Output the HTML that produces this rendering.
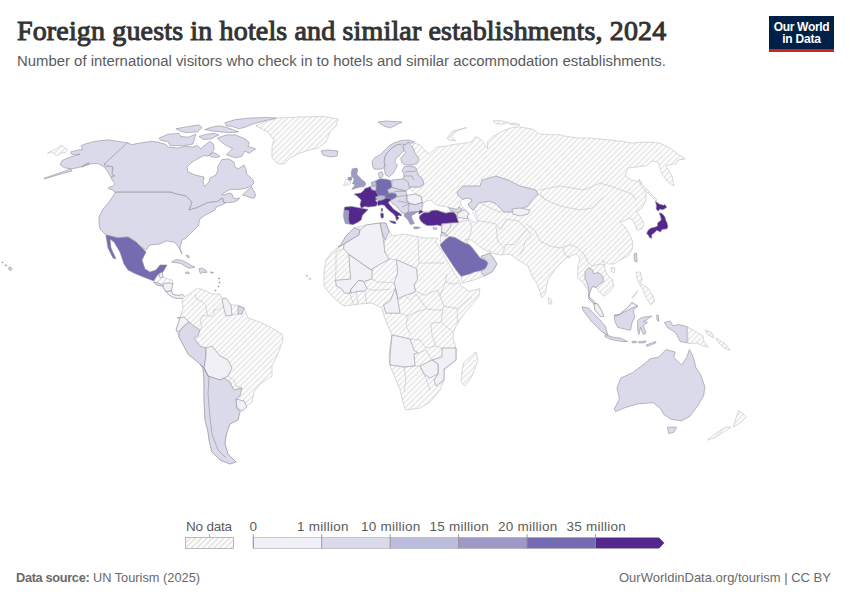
<!DOCTYPE html>
<html><head><meta charset="utf-8">
<style>
html,body{margin:0;padding:0;background:#fff;}
body{width:850px;height:600px;position:relative;overflow:hidden;font-family:"Liberation Sans",sans-serif;}
.t{position:absolute;white-space:nowrap;}
#title{left:17px;top:14.6px;font-family:"Liberation Serif",serif;font-weight:normal;font-size:28px;color:#333;letter-spacing:0.15px;-webkit-text-stroke:1px #333;}
#sub{left:17px;top:53.3px;font-size:14.9px;color:#5b5b5b;}
#logo{position:absolute;left:769px;top:16px;width:65px;height:36px;background:#002147;}
#logo .bar{position:absolute;left:0;bottom:0;width:65px;height:3px;background:#ce261e;}
#logo .l{position:absolute;left:0;width:65px;text-align:center;color:#fff;font-weight:bold;font-size:12px;line-height:12px;}
#map{position:absolute;left:0;top:0;}
.lg{position:absolute;font-size:13.5px;color:#5b5b5b;letter-spacing:0.25px;}
#foot1{left:16px;top:569.8px;font-size:12.8px;color:#6a6a6a;}
#foot2{left:619px;top:569.5px;font-size:13px;color:#6a6a6a;}
</style></head><body>
<div class="t" id="title">Foreign guests in hotels and similar establishments, 2024</div>
<div class="t" id="sub">Number of international visitors who check in to hotels and similar accommodation establishments.</div>
<div id="logo"><div class="l" style="top:4.5px;letter-spacing:-0.3px">Our World</div><div class="l" style="top:17px;letter-spacing:-0.2px">in Data</div><div class="bar"></div></div>
<svg id="map" width="850" height="600" style="position:absolute;left:0;top:0">
<defs><pattern id="hh" patternUnits="userSpaceOnUse" width="4" height="4" patternTransform="rotate(-45 2 2)"><rect width="4" height="4" fill="#fff"/><path d="M -1,2 l 6,0" stroke="#dedede" stroke-width="1.2"/></pattern></defs>
<g stroke="#8e8e98" stroke-width="0.6" stroke-linejoin="round">
<path d="M47.4,153.5 L55.9,148.8 L61.2,145.1 L67.5,149.8 L65.4,152.5 L61.2,153.0 L56.9,155.6 L51.6,151.9Z" fill="url(#hh)" stroke="#bfbfbf" stroke-width="0.6"/>
<path d="M81.3,145.6 L86.6,143.5 L95.1,141.4 L107.8,139.8 L114.1,140.8 L127.9,142.9 L104.1,164.6 L105.6,166.8 L113.1,166.2 L112.0,170.0 L114.1,175.2 L110.9,177.4 L108.0,172.0 L104.1,167.0 L98.2,163.6 L91.9,163.6 L85.5,165.7 L81.3,166.8 L71.8,168.9 L64.4,167.8 L60.1,164.6 L62.2,160.4 L69.6,157.2 L77.1,155.1 L80.2,154.1 L71.8,154.6 L70.7,151.9 L79.2,149.8 L82.4,149.8Z" fill="#dadaeb"/>
<path d="M70.7,168.9 L58.0,173.5 L44.2,178.2 L44.5,178.9 L59.0,174.5 L71.8,171.0Z" fill="#dadaeb"/>
<path d="M81.5,166.5 L88.7,162.5 L89.0,163.3 L82.0,167.2Z" fill="#dadaeb"/>
<path d="M127.4,142.6 L131.5,144.6 L143.0,142.6 L151.3,141.3 L157.9,142.1 L166.1,144.6 L167.8,147.1 L177.7,147.9 L185.9,146.2 L192.5,147.1 L197.4,145.4 L200.7,148.7 L205.7,144.6 L209.8,141.3 L213.9,144.6 L214.0,150.0 L213.0,151.5 L208.0,156.0 L204.0,155.5 L198.0,158.5 L192.0,162.0 L187.0,167.0 L188.0,172.0 L195.0,175.0 L204.0,177.0 L203.0,182.0 L204.5,186.5 L209.0,182.0 L210.0,178.0 L216.0,175.0 L218.0,170.0 L217.5,167.0 L220.0,163.0 L222.0,159.5 L229.0,159.0 L234.0,162.0 L235.0,167.0 L238.0,169.0 L244.0,165.0 L246.0,169.0 L246.5,174.0 L250.0,177.0 L253.0,180.0 L254.0,183.0 L251.0,186.0 L245.2,188.5 L237.7,189.4 L230.2,189.4 L225.5,191.8 L221.7,194.6 L224.0,195.0 L229.0,193.0 L232.0,194.0 L233.0,197.5 L235.8,198.8 L239.6,197.9 L238.6,199.8 L233.9,202.1 L229.2,202.6 L225.5,202.6 L223.6,202.6 L222.6,198.0 L217.0,201.6 L208.0,202.6 L196.0,208.0 L189.0,210.0 L192.0,202.0 L186.0,196.0 L176.0,194.0 L171.0,192.2 L115.0,192.2 L113.0,190.0 L108.0,188.5 L110.0,186.5 L112.0,187.0 L115.0,184.0 L111.0,178.0 L115.0,176.0 L112.0,174.0 L113.0,167.0 L109.0,166.0 L104.0,164.4Z" fill="#dadaeb"/>
<path d="M159.2,138.0 L168.3,134.2 L179.0,133.4 L180.6,136.5 L188.2,137.2 L195.9,134.2 L194.3,139.5 L192.8,144.1 L183.6,145.6 L169.9,145.6 L168.3,141.8 L160.7,140.3Z" fill="#dadaeb"/>
<path d="M176.0,128.8 L188.2,126.5 L198.9,125.0 L202.0,127.3 L197.4,131.9 L185.2,132.6 L180.6,131.1Z" fill="#dadaeb"/>
<path d="M198.9,136.5 L206.6,134.2 L214.2,133.4 L218.8,134.9 L211.2,138.8 L203.5,139.5Z" fill="#dadaeb"/>
<path d="M205.0,129.6 L211.2,127.3 L218.8,125.8 L226.5,127.3 L232.6,129.6 L238.7,131.9 L229.5,132.6 L220.3,131.9 L212.7,131.1Z" fill="#dadaeb"/>
<path d="M224.9,122.7 L235.6,119.6 L249.4,118.1 L266.2,117.4 L276.9,118.1 L266.2,120.4 L254.0,123.5 L244.8,127.3 L238.7,128.8 L232.6,126.5 L226.5,125.8Z" fill="#dadaeb"/>
<path d="M217.3,138.0 L226.5,134.9 L235.6,134.9 L244.8,138.8 L249.4,142.6 L247.9,146.4 L255.5,148.7 L249.4,153.3 L244.8,151.0 L241.7,156.3 L235.6,157.9 L226.5,154.8 L232.6,148.7 L226.5,145.6 L221.9,142.6Z" fill="#dadaeb"/>
<path d="M209.0,155.0 L213.0,152.5 L217.0,154.0 L220.0,156.5 L216.0,157.5 L212.0,157.0Z" fill="#dadaeb"/>
<path d="M242.4,195.1 L247.1,190.4 L251.8,186.6 L252.8,189.4 L254.6,192.2 L255.6,196.0 L253.7,198.4 L249.9,197.4 L246.2,196.0Z" fill="#dadaeb"/>
<path d="M256.0,126.0 L264.0,122.0 L278.0,118.0 L300.0,117.0 L322.0,116.4 L338.0,119.0 L336.0,126.0 L330.0,132.0 L326.0,142.0 L318.0,148.0 L310.0,150.0 L300.0,153.0 L290.0,158.0 L284.0,164.0 L278.0,164.0 L272.0,158.0 L272.0,146.0 L274.0,140.0 L268.0,132.0Z" fill="url(#hh)" stroke="#bfbfbf" stroke-width="0.6"/>
<path d="M321.0,151.0 L328.0,150.0 L338.0,151.0 L337.0,156.0 L330.0,157.0 L323.0,155.0Z" fill="#dadaeb"/>
<path d="M115.0,192.2 L171.0,192.2 L176.0,194.0 L186.0,196.0 L192.0,202.0 L189.0,210.0 L196.0,208.0 L208.0,202.6 L217.0,201.6 L222.6,198.0 L223.6,202.6 L225.5,202.6 L224.5,203.5 L216.1,207.3 L215.1,210.1 L209.5,212.9 L205.7,214.8 L200.1,218.6 L199.1,222.4 L198.2,226.0 L192.0,232.0 L186.0,238.0 L182.0,240.0 L180.0,248.0 L182.0,254.0 L178.0,246.0 L174.0,242.0 L166.0,241.0 L160.0,244.0 L150.0,245.0 L146.0,250.0 L140.0,246.0 L136.0,242.0 L128.0,237.0 L118.0,238.0 L106.0,235.0 L105.0,234.0 L100.0,229.0 L99.0,224.0 L99.0,217.0 L103.0,209.0 L109.0,202.0 L113.0,196.0 L115.0,193.0Z" fill="#dadaeb"/>
<path d="M106.0,235.0 L118.0,238.0 L128.0,237.0 L136.0,242.0 L140.0,246.0 L146.0,252.0 L142.0,260.0 L145.0,269.0 L150.0,272.0 L156.0,270.0 L160.0,265.0 L167.0,265.0 L163.0,272.0 L157.0,276.0 L154.0,281.0 L146.0,278.0 L136.0,274.0 L128.0,270.0 L124.0,264.0 L120.0,252.0 L114.0,242.0 L110.0,239.0 L111.0,248.0 L116.0,259.0 L113.0,258.0 L108.0,248.0 L106.0,236.0Z" fill="#756bb1"/>
<path d="M162.4,272.0 L162.9,277.1 L166.6,278.5 L172.3,280.0 L172.8,283.2 L171.4,290.8 L173.2,294.5 L177.9,295.5 L182.6,294.5 L184.5,296.4 L184.5,299.2 L180.8,298.3 L177.0,298.3 L173.2,297.4 L168.5,294.5 L165.7,291.7 L161.9,286.1 L157.2,285.1 L153.5,282.3 L154.0,281.0 L157.0,276.0 L159.0,274.0Z" fill="url(#hh)" stroke="#bfbfbf" stroke-width="0.6"/>
<path d="M159.0,273.8 L162.4,272.0 L162.9,277.1 L160.0,278.0Z" fill="#f2f0f7"/>
<path d="M153.5,282.3 L157.2,282.3 L162.9,285.1 L161.9,286.1 L157.2,285.1Z" fill="#dadaeb"/>
<path d="M163.8,283.2 L172.8,283.2 L171.4,290.8 L166.0,291.7 L163.0,287.0Z" fill="#f2f0f7"/>
<path d="M166.0,291.7 L171.4,290.8 L173.2,294.5 L177.9,295.5 L182.6,294.5 L184.5,296.4 L184.5,299.2 L180.8,298.3 L177.0,298.3 L173.2,297.4 L168.5,294.5Z" fill="#f2f0f7"/>
<path d="M171.4,262.1 L176.1,259.7 L181.7,260.2 L186.4,262.5 L191.1,265.4 L194.9,267.2 L189.2,268.2 L185.5,266.3 L180.8,263.5 L175.1,262.5Z" fill="#dadaeb"/>
<path d="M199.1,268.6 L202.4,268.2 L206.2,270.5 L207.1,272.4 L202.4,272.4 L200.5,273.8 L199.6,271.5Z" fill="#dadaeb"/>
<path d="M185.0,272.4 L188.3,271.9 L189.7,273.4 L186.4,273.4Z" fill="#dadaeb"/>
<path d="M209.9,272.0 L213.7,272.4 L211.8,273.4Z" fill="#dadaeb"/>
<path d="M186.4,255.0 L189.0,256.0 L189.2,257.8 L187.0,257.0Z" fill="#dadaeb"/>
<path d="M184.5,296.4 L188.0,295.0 L192.0,292.0 L198.0,288.0 L206.0,291.0 L212.0,294.0 L220.0,294.0 L222.0,298.0 L230.0,305.0 L238.0,305.0 L244.0,308.0 L248.0,318.0 L260.0,322.0 L272.0,328.0 L282.0,334.0 L283.0,340.0 L278.0,354.0 L272.0,366.0 L272.0,376.0 L260.0,384.0 L254.0,392.0 L252.0,402.0 L246.0,406.0 L242.0,410.0 L240.0,412.0 L238.0,420.0 L230.0,424.0 L228.0,429.0 L226.0,436.0 L225.0,444.0 L228.0,454.0 L236.0,462.0 L230.0,464.0 L220.0,460.0 L212.0,452.0 L209.0,440.0 L208.0,432.0 L205.0,420.0 L204.0,400.0 L204.0,380.0 L203.0,368.0 L200.0,364.0 L188.0,354.0 L179.0,337.0 L176.0,330.0 L180.0,318.0 L183.0,308.0 L182.0,300.0Z" fill="url(#hh)" stroke="#bfbfbf" stroke-width="0.6"/>
<path d="M177.0,318.0 L184.0,317.0 L189.0,322.0 L182.0,328.0 L179.0,332.0 L176.0,330.0 L180.0,318.0Z" fill="#f2f0f7"/>
<path d="M179.0,332.0 L182.0,328.0 L189.0,322.0 L194.0,326.0 L200.0,330.0 L198.0,336.0 L194.0,338.0 L200.0,346.0 L206.0,348.0 L206.0,356.0 L204.0,368.0 L200.0,364.0 L188.0,354.0 L179.0,337.0Z" fill="#dadaeb"/>
<path d="M206.0,348.0 L212.0,346.0 L220.0,356.0 L228.0,360.0 L232.0,368.0 L228.0,376.0 L220.0,380.0 L208.0,376.0 L204.0,368.0 L206.0,356.0Z" fill="#f2f0f7"/>
<path d="M222.0,299.0 L226.0,298.0 L231.0,305.0 L232.0,315.0 L226.0,316.0 L224.0,309.0Z" fill="#f2f0f7"/>
<path d="M238.0,306.0 L244.0,308.0 L242.0,314.0 L238.0,314.0Z" fill="#dadaeb"/>
<path d="M204.0,368.0 L208.0,376.0 L220.0,380.0 L224.0,378.0 L230.0,382.0 L234.0,390.0 L242.0,388.0 L240.0,396.0 L236.0,399.0 L237.0,408.0 L240.0,412.0 L238.0,420.0 L230.0,424.0 L228.0,429.0 L226.0,436.0 L225.0,444.0 L228.0,454.0 L236.0,462.0 L230.0,464.0 L220.0,460.0 L212.0,452.0 L209.0,440.0 L208.0,432.0 L205.0,420.0 L204.0,400.0 L204.0,380.0 L203.0,368.0 L200.0,364.0Z" fill="#dadaeb"/>
<path d="M236.0,399.0 L244.0,401.0 L247.0,407.0 L242.0,411.0 L237.0,408.0Z" fill="#f2f0f7"/>
<path d="M413.5,142.6 L420.6,145.3 L424.1,149.7 L429.4,154.1 L432.9,150.6 L436.5,147.1 L445.3,146.2 L454.1,144.4 L462.9,143.5 L471.8,141.8 L475.3,136.5 L480.6,139.1 L484.1,143.5 L487.6,148.8 L487.6,141.8 L492.9,136.5 L501.8,131.2 L512.4,127.6 L519.4,126.8 L533.5,129.4 L538.8,133.8 L549.4,134.7 L560.0,134.7 L564.0,136.0 L578.0,138.0 L590.0,138.0 L600.0,139.0 L620.0,141.0 L632.0,143.0 L646.0,142.0 L660.0,143.0 L670.0,148.0 L678.0,154.0 L685.0,159.0 L678.0,160.0 L676.0,164.0 L672.0,164.0 L666.0,166.0 L672.0,176.0 L674.0,186.0 L668.0,182.0 L662.0,174.0 L660.0,168.0 L658.0,162.0 L652.0,161.0 L646.0,166.0 L636.0,167.0 L628.0,168.0 L625.0,176.0 L632.0,180.0 L640.0,182.0 L646.0,190.0 L646.0,200.0 L642.0,208.0 L636.0,212.0 L640.0,216.0 L644.0,224.0 L642.0,229.0 L637.0,230.0 L634.0,222.0 L630.0,218.0 L626.0,220.0 L620.0,222.0 L626.0,228.0 L630.0,236.0 L633.0,242.0 L632.0,250.0 L628.0,256.0 L620.0,260.0 L614.0,264.0 L608.0,264.0 L602.0,260.0 L605.0,265.0 L605.0,270.0 L607.5,275.0 L612.5,280.0 L613.8,286.3 L610.0,291.3 L603.8,296.3 L600.0,292.5 L596.3,287.5 L592.5,286.3 L590.6,290.0 L588.8,296.3 L592.5,300.0 L596.3,303.8 L597.5,303.8 L601.3,310.0 L603.8,316.3 L600.0,316.3 L595.0,310.0 L593.8,303.8 L588.8,298.8 L588.8,292.5 L586.3,287.5 L582.5,282.5 L577.5,277.5 L578.0,266.0 L580.0,258.0 L576.0,254.0 L566.0,258.0 L556.0,268.0 L548.0,280.0 L545.0,294.0 L542.0,298.0 L538.0,286.0 L532.0,276.0 L528.0,266.0 L518.0,260.0 L510.0,254.0 L500.0,255.0 L490.0,253.0 L480.0,250.0 L470.0,242.0 L466.0,244.0 L453.0,237.0 L446.0,236.0 L441.0,232.0 L441.8,225.0 L435.9,223.5 L430.0,224.7 L425.3,225.3 L421.8,222.9 L419.4,218.2 L420.0,214.7 L418.8,211.2 L422.4,202.4 L421.2,196.5 L415.3,194.1 L409.4,188.2 L410.0,187.0 L420.0,187.0 L424.0,184.0 L420.0,178.0 L414.0,172.0 L412.0,165.0 L414.0,158.0 L412.0,150.0Z" fill="url(#hh)" stroke="#bfbfbf" stroke-width="0.6"/>
<path d="M378.0,122.0 L386.0,121.0 L394.0,121.5 L402.0,122.0 L396.0,125.0 L390.0,128.0 L384.0,126.0Z" fill="#dadaeb"/>
<path d="M343.5,185.3 L345.9,179.4 L350.6,180.0 L350.6,183.5 L347.0,185.3Z" fill="url(#hh)" stroke="#bfbfbf" stroke-width="0.6"/>
<path d="M352.4,168.8 L357.1,168.2 L357.6,171.2 L356.5,174.1 L359.4,177.1 L361.8,180.0 L364.1,181.2 L365.9,184.1 L364.1,186.5 L360.0,187.1 L355.3,188.2 L351.8,189.4 L354.1,186.5 L355.3,184.7 L352.4,183.5 L353.5,181.8 L354.1,178.8 L351.8,176.5 L351.2,172.9Z" fill="#9e9ac8"/>
<path d="M348.0,177.6 L351.5,177.0 L351.8,180.0 L348.5,180.0Z" fill="#9e9ac8"/>
<path d="M372.1,160.8 L375.0,157.5 L380.0,155.0 L385.0,150.0 L390.0,145.0 L395.0,142.5 L401.7,140.4 L408.3,140.0 L414.2,141.7 L411.7,143.3 L408.3,142.5 L405.0,145.0 L403.3,144.2 L400.0,144.2 L396.7,145.0 L391.7,148.3 L387.5,152.5 L385.0,156.7 L384.2,161.7 L385.0,165.0 L383.3,168.3 L380.0,169.2 L374.2,169.2 L372.5,165.8Z" fill="#dadaeb"/>
<path d="M385.0,156.7 L387.5,152.5 L391.7,148.3 L396.7,145.0 L400.0,144.2 L403.3,147.5 L404.2,150.8 L401.7,152.5 L400.0,155.0 L395.8,158.3 L395.0,162.5 L397.5,165.0 L395.0,170.0 L393.3,173.3 L389.2,176.7 L385.8,175.0 L384.2,170.0 L385.0,165.0 L384.2,161.7Z" fill="#dadaeb"/>
<path d="M403.3,144.2 L405.0,145.0 L408.3,142.5 L410.0,144.2 L413.3,148.3 L415.0,153.3 L419.2,159.2 L416.7,163.3 L411.7,165.0 L405.0,165.0 L401.7,162.5 L400.8,158.3 L403.3,155.0 L405.8,152.5 L404.2,150.8 L403.3,147.5Z" fill="#dadaeb"/>
<path d="M378.3,173.3 L381.7,171.7 L383.3,175.0 L381.7,177.5 L379.2,177.5Z" fill="#dadaeb"/>
<path d="M404.0,167.0 L410.0,166.0 L416.0,168.0 L418.0,175.0 L422.0,178.0 L424.0,184.0 L420.0,187.0 L410.0,187.0 L409.4,188.2 L405.9,191.2 L398.8,189.4 L391.8,187.1 L391.8,180.0 L403.5,178.8 L404.0,174.0 L402.0,171.0Z" fill="#dadaeb"/>
<path d="M375.8,180.8 L380.0,178.8 L385.8,179.2 L390.8,180.4 L391.7,187.5 L387.5,190.0 L389.2,193.3 L386.7,195.8 L378.3,195.8 L375.8,190.8Z" fill="#756bb1"/>
<path d="M371.3,182.5 L375.8,180.8 L376.3,185.8 L372.0,186.0Z" fill="#bcbddc"/>
<path d="M370.0,186.5 L376.3,185.8 L375.8,190.8 L372.0,190.0Z" fill="#dadaeb"/>
<path d="M387.5,190.0 L391.7,187.5 L398.8,189.4 L405.9,191.2 L407.1,195.3 L406.0,200.0 L409.4,203.5 L410.0,208.0 L408.0,212.0 L406.0,213.5 L402.0,213.0 L398.0,208.0 L392.0,203.0 L390.0,199.5 L392.5,199.2 L396.7,196.7 L395.8,193.8 L390.0,193.3 L389.2,193.3Z" fill="#dadaeb"/>
<path d="M407.1,195.3 L415.3,194.1 L421.2,196.5 L422.4,202.4 L415.3,204.7 L409.4,203.5 L407.1,200.0Z" fill="#f2f0f7"/>
<path d="M409.4,203.5 L415.3,204.7 L422.4,202.4 L421.8,208.5 L421.0,210.5 L418.0,211.5 L413.0,212.0 L409.0,212.3 L408.0,208.0Z" fill="#dadaeb"/>
<path d="M404.4,214.0 L408.0,212.5 L413.0,212.0 L418.0,211.5 L414.5,214.0 L411.5,215.5 L412.0,219.0 L414.5,223.5 L410.5,224.5 L408.0,220.0 L406.5,218.0 L404.5,216.5Z" fill="#9e9ac8"/>
<path d="M413.8,227.0 L417.0,226.9 L420.4,227.5 L417.0,228.8 L414.0,228.5Z" fill="#9e9ac8"/>
<path d="M384.5,195.6 L390.0,193.3 L395.8,193.8 L396.7,196.7 L392.5,199.2 L388.0,199.5 L385.5,198.8Z" fill="#756bb1"/>
<path d="M375.3,196.3 L378.3,195.6 L381.2,195.6 L385.5,196.3 L384.5,199.0 L382.5,200.2 L379.0,200.6 L376.2,199.8Z" fill="#bcbddc"/>
<path d="M354.1,194.1 L360.6,192.9 L362.9,191.2 L365.3,188.2 L368.2,187.6 L370.0,186.5 L372.0,190.0 L375.8,190.8 L378.3,195.8 L375.3,197.1 L376.5,199.4 L375.3,200.0 L377.6,202.9 L376.5,205.9 L372.9,206.5 L368.2,207.1 L364.7,206.5 L361.2,208.2 L360.0,204.7 L361.2,200.0 L357.6,196.5Z" fill="#54278f"/>
<path d="M381.1,208.4 L382.7,208.4 L382.7,211.1 L381.3,211.6Z" fill="#54278f"/>
<path d="M344.7,207.1 L351.8,206.5 L361.2,208.2 L368.2,209.4 L365.9,211.8 L362.4,215.3 L361.2,220.0 L357.6,222.4 L352.9,224.7 L349.4,224.1 L348.2,218.8 L348.8,211.8 L344.1,210.0Z" fill="#54278f"/>
<path d="M344.1,210.0 L348.8,210.6 L348.2,218.8 L349.4,224.1 L345.3,223.5 L343.5,216.5Z" fill="#9e9ac8"/>
<path d="M377.9,200.9 L382.7,199.9 L385.9,198.3 L390.7,198.8 L390.7,200.4 L388.5,202.0 L389.1,204.1 L391.2,206.3 L393.3,208.9 L396.5,211.1 L399.7,213.2 L401.9,215.3 L400.3,215.9 L398.7,215.3 L397.6,216.4 L399.2,218.0 L397.6,219.6 L397.1,220.7 L396.0,219.1 L395.5,216.4 L393.3,213.7 L389.6,211.1 L386.4,207.9 L384.3,205.2 L381.1,204.7 L378.4,205.7 L377.3,203.6Z" fill="#54278f"/>
<path d="M389.6,220.7 L393.3,221.2 L395.5,221.7 L396.0,223.9 L393.3,223.3 L390.7,222.3Z" fill="#54278f"/>
<path d="M380.5,213.2 L383.2,213.2 L383.7,217.0 L382.1,218.5 L381.1,217.5Z" fill="#54278f"/>
<path d="M447.1,138.2 L452.4,131.2 L466.5,127.6 L457.6,130.3 L450.6,136.5 L455.9,140.9 L448.8,140.0Z" fill="url(#hh)" stroke="#bfbfbf" stroke-width="0.6"/>
<path d="M493.0,121.0 L500.0,120.6 L509.0,122.5 L503.0,124.1 L495.0,123.5Z" fill="url(#hh)" stroke="#bfbfbf" stroke-width="0.6"/>
<path d="M509.0,123.5 L516.0,123.0 L520.0,125.0 L513.0,125.0Z" fill="url(#hh)" stroke="#bfbfbf" stroke-width="0.6"/>
<path d="M421.8,208.5 L423.2,203.8 L426.0,201.0 L430.8,200.1 L434.5,203.8 L439.2,205.7 L445.8,206.6 L450.5,208.5 L451.5,212.3 L446.8,212.3 L440.2,211.4 L434.5,209.9 L428.0,211.4 L422.3,211.4Z" fill="#fff" stroke="#bfbfbf" stroke-width="0.6"/>
<path d="M462.7,199.3 L467.3,198.0 L471.3,199.3 L472.0,201.3 L468.0,204.0 L470.0,207.3 L473.3,210.0 L476.7,211.3 L475.3,212.7 L477.3,216.7 L478.0,221.3 L475.3,222.7 L471.3,220.7 L468.0,218.7 L467.3,216.0 L469.3,214.0 L465.3,210.0 L461.3,205.3 L460.0,202.0Z" fill="#fff" stroke="#bfbfbf" stroke-width="0.6"/>
<path d="M457.0,192.0 L463.0,186.0 L480.0,186.0 L482.0,180.0 L496.0,176.0 L508.0,180.0 L520.0,186.0 L536.0,190.0 L538.0,194.0 L532.0,200.0 L528.0,206.0 L520.0,209.0 L512.0,212.0 L504.0,212.0 L496.0,204.0 L490.0,201.3 L478.7,202.7 L473.3,210.0 L470.0,207.3 L468.0,204.0 L472.0,201.3 L471.3,199.3 L467.3,198.0 L462.7,199.3 L458.0,195.3Z" fill="#dadaeb"/>
<path d="M512.0,209.0 L520.0,208.0 L530.0,210.0 L528.0,214.0 L520.0,216.0 L513.0,214.0Z" fill="#f2f0f7"/>
<path d="M418.9,211.1 L421.1,210.3 L423.3,211.9 L421.1,213.0 L418.9,214.1Z" fill="#54278f"/>
<path d="M420.0,215.5 L423.8,212.7 L428.8,212.5 L432.1,210.5 L437.1,210.3 L441.5,211.9 L446.0,213.3 L449.8,212.2 L453.7,212.2 L455.9,214.4 L457.0,217.7 L458.1,221.0 L458.7,222.7 L453.7,222.7 L448.2,223.2 L441.5,223.8 L441.0,226.0 L437.1,224.9 L433.2,225.5 L427.2,225.5 L423.3,223.2 L420.5,220.5 L419.4,217.7Z" fill="#54278f"/>
<path d="M448.8,207.6 L457.1,209.4 L459.0,207.0 L462.0,209.0 L459.4,212.4 L455.9,212.4 L450.0,210.0Z" fill="#dadaeb"/>
<path d="M459.4,212.4 L462.0,210.5 L465.3,210.0 L469.3,214.0 L467.3,216.0 L468.0,218.7 L462.0,218.0 L457.5,217.1 L457.1,213.5Z" fill="#f2f0f7"/>
<path d="M441.8,224.1 L451.2,222.9 L450.0,227.6 L445.3,233.5 L441.8,232.4 L441.8,228.0Z" fill="#f2f0f7"/>
<path d="M441.8,232.4 L445.3,233.5 L447.6,235.9 L446.0,236.0 L442.0,238.0 L440.5,236.0Z" fill="#dadaeb"/>
<path d="M433.0,227.6 L437.0,227.8 L436.5,229.4 L433.5,229.2Z" fill="#dadaeb"/>
<path d="M440.5,236.0 L446.0,236.0 L453.0,237.0 L466.0,244.0 L472.0,250.0 L478.0,254.0 L484.0,258.0 L488.0,252.0 L492.0,256.0 L497.0,264.0 L492.0,272.0 L484.0,276.0 L474.0,280.0 L466.0,282.0 L462.3,283.3 L461.2,276.3 L456.5,270.5 L451.8,263.5 L447.2,256.5 L442.5,249.5 L440.2,244.8Z" fill="url(#hh)" stroke="#bfbfbf" stroke-width="0.6"/>
<path d="M465.0,239.5 L471.7,240.2 L478.7,246.0 L485.7,250.7 L491.5,251.8 L489.2,253.5 L484.5,255.3 L479.8,257.7 L475.2,251.8 L471.7,247.2 L469.3,244.8Z" fill="#fff" stroke="#bfbfbf" stroke-width="0.6"/>
<path d="M440.2,244.8 L446.0,239.0 L449.5,236.7 L455.3,237.8 L463.5,242.5 L469.3,244.8 L471.7,247.2 L475.2,251.8 L479.8,257.7 L486.8,261.2 L488.0,263.5 L485.7,268.2 L481.0,270.5 L475.2,271.7 L469.3,274.0 L461.2,276.3 L456.5,270.5 L451.8,263.5 L447.2,256.5 L442.5,249.5Z" fill="#756bb1"/>
<path d="M481.0,256.0 L484.5,255.3 L489.2,253.0 L492.0,256.0 L497.0,264.0 L492.0,272.0 L484.0,276.0 L481.0,272.0 L485.7,268.2 L488.0,263.5 L486.8,261.2Z" fill="#dadaeb"/>
<path d="M548.0,298.0 L551.0,299.0 L552.0,304.0 L549.0,304.0Z" fill="url(#hh)" stroke="#bfbfbf" stroke-width="0.6"/>
<path d="M634.0,254.0 L636.5,253.0 L637.0,262.0 L634.5,261.0Z" fill="#dadaeb"/>
<path d="M611.0,267.5 L615.0,268.0 L614.5,272.5 L611.5,272.0Z" fill="url(#hh)" stroke="#bfbfbf" stroke-width="0.6"/>
<path d="M655.4,201.3 L659.1,203.9 L663.5,205.3 L664.9,204.6 L666.8,207.2 L664.2,209.0 L662.0,209.7 L659.8,209.0 L658.3,211.2 L656.1,209.0 L656.5,206.1Z" fill="#54278f"/>
<path d="M659.8,212.7 L662.7,214.1 L664.9,217.1 L665.7,220.0 L667.1,222.9 L667.9,226.6 L667.1,228.8 L664.2,229.2 L662.0,229.5 L660.5,232.1 L658.3,231.0 L656.9,230.3 L655.4,231.7 L653.9,233.2 L651.7,234.7 L651.7,238.4 L649.5,237.6 L648.1,234.7 L646.6,233.6 L648.1,230.3 L651.0,228.1 L654.7,227.3 L657.6,225.9 L657.6,222.9 L661.3,220.0 L660.5,216.3 L659.4,213.8Z" fill="#54278f"/>
<path d="M639.0,179.0 L642.0,184.0 L657.0,200.0 L656.0,201.0 L641.0,186.0Z" fill="url(#hh)" stroke="#bfbfbf" stroke-width="0.6"/>
<path d="M585.0,271.3 L588.8,267.5 L592.5,270.0 L593.8,273.8 L598.8,272.5 L602.5,276.3 L603.8,281.3 L600.0,283.8 L596.3,287.5 L592.5,286.3 L590.6,290.0 L588.8,296.3 L592.5,300.0 L596.3,303.8 L593.8,303.8 L588.8,298.8 L588.8,290.0 L587.5,283.8 L585.0,278.8Z" fill="#dadaeb"/>
<path d="M593.8,303.8 L597.5,303.8 L601.3,310.0 L603.8,316.3 L600.0,316.3 L595.0,310.0Z" fill="#f2f0f7"/>
<path d="M636.2,272.1 L640.4,272.1 L641.9,279.2 L640.4,283.4 L647.5,287.7 L650.4,291.9 L653.2,296.2 L654.6,301.9 L650.4,304.7 L646.1,297.6 L643.3,290.5 L639.0,283.4 L636.9,277.8Z" fill="url(#hh)" stroke="#bfbfbf" stroke-width="0.6"/>
<path d="M631.9,297.6 L637.6,290.5 L638.2,291.0 L632.5,298.2Z" fill="url(#hh)" stroke="#bfbfbf" stroke-width="0.6"/>
<path d="M340.0,246.0 L346.0,236.0 L354.0,228.0 L366.0,225.0 L380.0,223.0 L386.0,223.0 L389.0,230.0 L392.0,236.0 L404.0,234.0 L414.0,236.0 L426.0,238.0 L438.0,238.0 L435.5,241.3 L440.2,248.3 L444.8,256.5 L449.5,264.7 L454.2,272.8 L458.8,279.8 L461.2,285.7 L469.3,291.3 L480.0,288.7 L478.7,296.7 L472.0,304.7 L464.0,314.0 L456.0,326.0 L453.3,332.7 L453.3,340.0 L456.0,348.0 L456.0,360.0 L444.0,370.0 L444.0,380.0 L440.0,390.0 L430.0,402.0 L420.0,408.0 L406.0,410.0 L404.0,406.0 L400.0,390.0 L396.0,380.0 L390.0,366.0 L389.0,358.0 L390.0,346.0 L392.0,335.0 L388.0,326.0 L384.0,316.0 L382.0,308.0 L372.0,303.0 L360.0,304.0 L344.0,306.0 L336.0,300.0 L330.0,294.0 L324.0,286.0 L324.0,272.0 L326.0,260.0 L332.0,252.0Z" fill="url(#hh)" stroke="#bfbfbf" stroke-width="0.6"/>
<path d="M340.0,246.0 L346.0,236.0 L354.0,228.0 L360.0,230.0 L359.0,235.0 L344.0,244.0 L338.0,247.0Z" fill="#dadaeb"/>
<path d="M344.0,244.0 L359.0,235.0 L360.0,230.0 L366.0,225.0 L380.0,223.0 L382.0,232.0 L384.1,245.0 L384.7,252.1 L389.4,259.1 L370.6,269.7 L348.8,254.4 L343.5,248.5Z" fill="#f2f0f7"/>
<path d="M380.0,223.0 L386.0,223.0 L389.0,232.0 L385.0,240.0 L382.0,232.0Z" fill="#dadaeb"/>
<path d="M348.8,254.4 L370.6,269.7 L372.4,270.3 L371.8,279.1 L363.5,281.5 L358.8,280.3 L350.6,289.7 L350.0,293.2 L344.7,293.2 L341.2,288.5 L336.5,286.2 L335.3,280.3 L350.6,279.1Z" fill="#f2f0f7"/>
<path d="M350.6,289.7 L358.8,280.3 L363.5,281.5 L367.1,288.5 L364.7,290.9 L356.5,291.5 L351.2,293.2Z" fill="#f2f0f7"/>
<path d="M396.5,259.7 L416.5,268.5 L417.6,279.1 L414.1,285.0 L415.3,292.1 L404.7,295.6 L397.6,299.1 L396.5,292.1 L394.1,282.6 L397.6,273.2Z" fill="#f2f0f7"/>
<path d="M395.3,288.5 L397.6,299.1 L400.0,313.2 L385.9,313.2 L383.5,305.0 L390.6,300.3Z" fill="#f2f0f7"/>
<path d="M392.0,335.0 L402.0,337.0 L410.0,339.0 L414.0,350.0 L418.0,353.0 L414.0,354.0 L415.0,366.0 L404.0,367.0 L390.0,365.0 L390.0,356.0Z" fill="#f2f0f7"/>
<path d="M442.0,348.0 L456.0,348.0 L456.0,360.0 L444.0,369.0 L444.0,380.0 L436.0,386.0 L434.0,380.0 L438.0,374.0 L438.0,364.0 L432.0,360.0 L442.0,357.0Z" fill="#f2f0f7"/>
<path d="M420.0,366.0 L432.0,360.0 L438.0,364.0 L438.0,374.0 L430.0,378.0 L424.0,374.0Z" fill="#f2f0f7"/>
<path d="M464.0,362.0 L476.0,352.0 L478.0,360.0 L472.0,376.0 L465.0,386.0 L461.0,382.0 L462.0,370.0Z" fill="url(#hh)" stroke="#bfbfbf" stroke-width="0.6"/>
<path d="M614.3,409.0 L619.5,398.7 L616.9,388.3 L620.8,378.0 L632.5,372.8 L642.8,365.0 L650.6,358.6 L658.3,357.3 L666.1,349.5 L675.2,352.1 L673.9,357.3 L681.6,365.0 L686.8,357.3 L689.4,349.5 L693.3,357.3 L695.9,367.6 L701.0,375.4 L704.9,387.0 L703.6,396.1 L697.2,406.5 L689.4,416.8 L681.6,420.7 L671.3,419.4 L663.5,414.2 L660.9,409.0 L653.2,402.6 L637.6,403.9 L624.7,407.8 L615.6,411.6Z" fill="#dadaeb"/>
<path d="M667.4,427.2 L676.5,427.2 L673.9,432.3 L668.7,433.6Z" fill="#dadaeb"/>
<path d="M582.0,306.8 L588.5,308.1 L598.8,318.5 L605.3,326.2 L607.9,335.3 L601.4,331.4 L591.1,321.1 L583.3,310.7Z" fill="#dadaeb"/>
<path d="M605.0,334.5 L613.5,337.3 L620.6,338.0 L627.7,341.5 L622.0,341.5 L610.7,339.4 L605.0,336.6Z" fill="#dadaeb"/>
<path d="M631.9,341.5 L636.0,341.0 L636.5,342.5 L632.5,343.0Z" fill="#dadaeb"/>
<path d="M638.3,341.7 L646.0,341.0 L645.0,342.8 L639.0,343.0Z" fill="#dadaeb"/>
<path d="M646.1,345.0 L656.0,341.5 L655.5,343.0 L647.0,346.5Z" fill="#dadaeb"/>
<path d="M656.7,315.0 L658.5,315.5 L658.6,321.5 L657.0,320.0Z" fill="#dadaeb"/>
<path d="M614.2,315.3 L619.2,314.6 L627.7,307.5 L631.9,302.6 L637.6,306.1 L633.3,310.4 L634.8,317.4 L631.9,323.1 L630.5,330.2 L626.3,329.5 L617.8,327.4 L614.9,321.7Z" fill="#dadaeb"/>
<path d="M614.2,315.3 L616.3,316.0 L627.7,310.4 L631.9,308.2 L637.6,306.1 L631.9,302.6 L627.7,307.5 L619.2,314.6Z" fill="#f2f0f7"/>
<path d="M637.6,320.3 L641.9,317.4 L651.8,316.0 L646.1,320.3 L643.3,321.7 L647.5,322.4 L643.3,326.0 L646.1,333.0 L643.3,334.5 L640.4,327.4 L639.0,334.5 L637.6,330.2Z" fill="#dadaeb"/>
<path d="M664.5,322.4 L670.2,321.0 L673.0,326.0 L678.7,324.5 L687.2,326.7 L687.2,343.0 L680.1,341.5 L675.9,333.0 L671.6,330.2 L667.4,327.4Z" fill="#dadaeb"/>
<path d="M687.2,326.7 L695.7,331.6 L702.8,335.9 L704.2,341.5 L708.5,347.2 L702.8,345.8 L697.1,343.0 L688.2,343.7Z" fill="url(#hh)" stroke="#bfbfbf" stroke-width="0.6"/>
<path d="M738.6,410.3 L746.3,416.8 L741.2,422.0 L733.4,427.2 L736.0,418.0Z" fill="url(#hh)" stroke="#bfbfbf" stroke-width="0.6"/>
<path d="M730.8,427.2 L715.3,437.5 L707.5,440.1 L715.3,433.6 L725.6,427.2Z" fill="url(#hh)" stroke="#bfbfbf" stroke-width="0.6"/>
<path d="M705.0,330.0 L712.0,333.0 L714.0,338.0 L708.0,335.0Z" fill="url(#hh)" stroke="#bfbfbf" stroke-width="0.6"/>
<path d="M716.0,338.0 L724.0,343.0 L730.0,350.0 L724.0,348.0 L718.0,342.0Z" fill="url(#hh)" stroke="#bfbfbf" stroke-width="0.6"/>
<path d="M8.7,267.5 L11.0,267.3 L12.0,269.5 L10.0,270.7 L8.8,269.5Z" fill="#dadaeb"/>
<path d="M5.0,265.0 L6.5,264.8 L6.8,265.8 L5.3,266.0Z" fill="#dadaeb"/>
<path d="M2.0,262.0 L3.0,262.0 L3.0,262.8 L2.0,262.8Z" fill="#dadaeb"/>
<path d="M218.5,278.0 L219.5,278.0 L219.5,279.0 L218.5,279.0Z" fill="#dadaeb"/>
<path d="M219.0,282.0 L220.0,282.0 L220.0,283.0 L219.0,283.0Z" fill="#dadaeb"/>
<path d="M218.0,286.0 L219.0,286.0 L219.0,287.0 L218.0,287.0Z" fill="#dadaeb"/>
<path d="M215.0,290.0 L216.0,290.0 L216.0,291.0 L215.0,291.0Z" fill="#dadaeb"/>
<path d="M306.0,275.0 L308.0,275.5 L307.5,277.0 L306.0,276.5Z" fill="url(#hh)" stroke="#bfbfbf" stroke-width="0.6"/>
<path d="M309.0,278.0 L311.0,278.5 L310.5,280.0 L309.0,279.5Z" fill="url(#hh)" stroke="#bfbfbf" stroke-width="0.6"/>
<path d="M204.0,368.0 L208.0,376.0 L209.0,378.0 L208.0,394.0 L210.0,418.0 L212.0,434.0 L218.0,450.0 L226.0,458.0" fill="none"/>
<path d="M405.0,172.0 L416.0,171.0" fill="none"/>
<path d="M404.0,176.0 L412.0,176.0 L414.0,180.0" fill="none"/>
<path d="M408.2,182.4 L409.4,188.2" fill="none"/>
<path d="M403.5,178.8 L408.2,182.4" fill="none"/>
<path d="M390.0,193.3 L396.0,191.5 L405.9,191.2" fill="none"/>
<path d="M396.7,196.7 L407.1,195.3" fill="none"/>
<path d="M398.0,201.0 L409.0,203.0" fill="none"/>
<path d="M402.0,207.0 L409.4,203.5" fill="none"/>
<path d="M540.0,190.0 L560.0,186.0 L584.0,190.0 L600.0,183.0 L616.0,188.0 L632.0,194.0 L636.0,200.0" fill="none" stroke="#bfbfbf" stroke-width="0.6"/>
<path d="M604.0,196.0 L592.0,208.0 L580.0,210.0 L560.0,206.0 L546.0,200.0 L540.0,194.0" fill="none" stroke="#bfbfbf" stroke-width="0.6"/>
<path d="M538.0,194.0 L546.0,200.0" fill="none" stroke="#bfbfbf" stroke-width="0.6"/>
<path d="M472.0,210.5 L477.2,220.7 L489.1,222.4 L496.0,224.1 L501.1,229.2 L506.2,219.0 L518.1,220.7 L526.6,229.2" fill="none" stroke="#bfbfbf" stroke-width="0.6"/>
<path d="M496.0,225.8 L497.6,241.2 L504.5,248.0 L502.8,253.1" fill="none" stroke="#bfbfbf" stroke-width="0.6"/>
<path d="M526.6,229.2 L519.8,237.8 L514.7,244.6 L506.2,244.6 L504.5,248.0" fill="none" stroke="#bfbfbf" stroke-width="0.6"/>
<path d="M526.6,229.2 L531.8,234.4 L525.0,241.2 L523.2,249.7 L519.8,254.8" fill="none" stroke="#bfbfbf" stroke-width="0.6"/>
<path d="M526.6,224.1 L535.2,230.9 L540.3,241.2 L550.5,246.3 L560.8,248.0 L571.0,244.6 L577.8,248.0 L584.0,254.0 L588.0,262.0 L592.0,266.0 L600.0,264.0 L605.0,265.0" fill="none" stroke="#bfbfbf" stroke-width="0.6"/>
<path d="M563.0,248.0 L565.0,255.0 L570.0,258.0" fill="none" stroke="#bfbfbf" stroke-width="0.6"/>
<path d="M478.9,202.0 L490.0,208.0 L500.0,212.0 L512.0,212.0" fill="none" stroke="#bfbfbf" stroke-width="0.6"/>
<path d="M466.0,244.0 L470.0,236.0 L472.0,226.0 L468.0,220.0 L458.0,222.4" fill="none" stroke="#bfbfbf" stroke-width="0.6"/>
<path d="M446.0,236.0 L452.0,230.0 L458.0,222.4" fill="none" stroke="#bfbfbf" stroke-width="0.6"/>
<path d="M385.0,240.0 L384.1,245.0" fill="none" stroke="#bfbfbf" stroke-width="0.6"/>
<path d="M389.4,259.1 L396.5,259.7" fill="none" stroke="#bfbfbf" stroke-width="0.6"/>
<path d="M418.0,238.0 L419.0,263.0 L416.5,268.5" fill="none" stroke="#bfbfbf" stroke-width="0.6"/>
<path d="M419.0,263.0 L444.0,263.0" fill="none" stroke="#bfbfbf" stroke-width="0.6"/>
<path d="M371.8,279.1 L378.0,282.0 L394.1,282.6" fill="none" stroke="#bfbfbf" stroke-width="0.6"/>
<path d="M343.5,248.5 L336.0,252.0 L336.0,270.0 L335.3,280.3" fill="none" stroke="#bfbfbf" stroke-width="0.6"/>
<path d="M350.0,293.2 L352.0,300.0 L354.0,305.0" fill="none" stroke="#bfbfbf" stroke-width="0.6"/>
<path d="M356.5,291.5 L357.0,298.0 L358.0,304.0" fill="none" stroke="#bfbfbf" stroke-width="0.6"/>
<path d="M364.7,290.9 L366.0,300.0 L367.0,304.0" fill="none" stroke="#bfbfbf" stroke-width="0.6"/>
<path d="M367.1,288.5 L372.0,290.0 L380.0,290.0 L390.6,289.0" fill="none" stroke="#bfbfbf" stroke-width="0.6"/>
<path d="M414.1,285.0 L416.0,291.3 L424.0,295.3 L437.3,290.0 L440.0,296.7 L444.0,306.0 L457.3,308.7 L472.0,296.7" fill="none" stroke="#bfbfbf" stroke-width="0.6"/>
<path d="M446.7,274.0 L445.3,282.0 L440.0,296.7" fill="none" stroke="#bfbfbf" stroke-width="0.6"/>
<path d="M458.7,283.3 L452.0,284.0 L445.3,282.0" fill="none" stroke="#bfbfbf" stroke-width="0.6"/>
<path d="M457.3,308.7 L457.3,323.3" fill="none" stroke="#bfbfbf" stroke-width="0.6"/>
<path d="M416.0,294.0 L426.7,308.7 L433.3,310.0 L442.7,310.0 L444.0,306.0" fill="none" stroke="#bfbfbf" stroke-width="0.6"/>
<path d="M442.7,310.0 L441.3,322.0 L430.7,323.3" fill="none" stroke="#bfbfbf" stroke-width="0.6"/>
<path d="M441.3,322.0 L453.3,332.7" fill="none" stroke="#bfbfbf" stroke-width="0.6"/>
<path d="M404.7,295.6 L410.0,300.0 L416.0,294.0" fill="none" stroke="#bfbfbf" stroke-width="0.6"/>
<path d="M400.0,313.2 L408.0,316.0 L416.0,312.0 L426.7,308.7" fill="none" stroke="#bfbfbf" stroke-width="0.6"/>
<path d="M408.0,316.0 L406.0,326.0 L410.0,334.0" fill="none" stroke="#bfbfbf" stroke-width="0.6"/>
<path d="M430.7,323.3 L432.0,335.0 L436.0,346.0 L442.0,348.0" fill="none" stroke="#bfbfbf" stroke-width="0.6"/>
<path d="M410.0,339.0 L420.0,340.0 L426.0,348.0 L436.0,346.0" fill="none" stroke="#bfbfbf" stroke-width="0.6"/>
<path d="M390.0,365.0 L404.0,367.0 L415.0,366.0 L420.0,366.0 L426.0,378.0 L430.0,390.0" fill="none" stroke="#bfbfbf" stroke-width="0.6"/>
<path d="M404.0,367.0 L406.0,380.0 L404.0,392.0" fill="none" stroke="#bfbfbf" stroke-width="0.6"/>
<path d="M418.0,353.0 L426.0,350.0 L432.0,360.0" fill="none" stroke="#bfbfbf" stroke-width="0.6"/>
<path d="M195.1,294.5 L196.2,298.8 L202.5,302.0 L205.7,305.1 L206.8,311.5 L207.8,315.7 L211.0,316.8 L214.2,313.6 L214.2,309.4 L217.4,309.9 L221.6,307.2 L223.7,306.2" fill="none" stroke="#bfbfbf" stroke-width="0.6"/>
<path d="M207.8,315.7 L202.5,315.7 L200.4,320.0 L201.5,327.4 L200.4,330.5" fill="none" stroke="#bfbfbf" stroke-width="0.6"/>
<path d="M232.0,315.0 L238.0,314.0" fill="none" stroke="#bfbfbf" stroke-width="0.6"/>
<path d="M228.0,376.0 L234.0,380.0 L236.0,386.0 L242.0,388.0" fill="none" stroke="#bfbfbf" stroke-width="0.6"/>
</g></svg>
<svg style="position:absolute;left:0;top:0" width="850" height="600">
<defs><pattern id="lh" patternUnits="userSpaceOnUse" width="4" height="4" patternTransform="rotate(-45 2 2)"><rect width="4" height="4" fill="#fff"/><path d="M -1,2 l 6,0" stroke="#d0d0d0" stroke-width="1"/></pattern></defs>
<rect x="185.5" y="537.5" width="48" height="11" fill="url(#lh)" stroke="#aaa" stroke-width="0.8"/>
<line x1="209.5" y1="534" x2="209.5" y2="537.5" stroke="#999" stroke-width="0.8"/>
<rect x="253.3" y="537.5" width="68.4" height="11" fill="#f2f0f7"/>
<rect x="321.7" y="537.5" width="68.5" height="11" fill="#dadaeb"/>
<rect x="390.2" y="537.5" width="68.4" height="11" fill="#bcbddc"/>
<rect x="458.6" y="537.5" width="68.5" height="11" fill="#9e9ac8"/>
<rect x="527.1" y="537.5" width="68.4" height="11" fill="#756bb1"/>
<path d="M595.5,537.5 H659 L664.3,543 L659,548.5 H595.5 Z" fill="#54278f"/>
<path d="M253.3,548.5 V537.5 H659 M253.3,548.5 H659" fill="none" stroke="#aaa" stroke-width="0.6"/>
<g stroke="#888" stroke-width="0.8">
<line x1="253.3" y1="534" x2="253.3" y2="548.5"/>
<line x1="321.7" y1="534" x2="321.7" y2="548.5"/>
<line x1="390.2" y1="534" x2="390.2" y2="548.5"/>
<line x1="458.6" y1="534" x2="458.6" y2="548.5"/>
<line x1="527.1" y1="534" x2="527.1" y2="548.5"/>
<line x1="595.5" y1="534" x2="595.5" y2="548.5"/>
</g>
</svg>
<div class="lg" style="left:186px;top:518.5px;letter-spacing:-0.2px">No data</div>
<div class="lg" style="left:249.5px;top:518.5px">0</div>
<div class="lg" style="left:297px;top:518.5px">1 million</div>
<div class="lg" style="left:361px;top:518.5px">10 million</div>
<div class="lg" style="left:429.5px;top:518.5px">15 million</div>
<div class="lg" style="left:498px;top:518.5px">20 million</div>
<div class="lg" style="left:566.5px;top:518.5px">35 million</div>
<div class="t" id="foot1"><b style="letter-spacing:-0.35px">Data source:</b> UN Tourism (2025)</div>
<div class="t" id="foot2">OurWorldinData.org/tourism | CC BY</div>
</body></html>
